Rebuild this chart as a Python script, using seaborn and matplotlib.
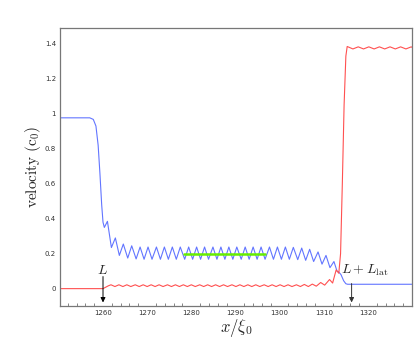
import pandas as pd
import seaborn as sns
import matplotlib.pyplot as plt

# blue curve (peaks and troughs)
blue_x = [1250.0, 1257.0, 1257.8, 1258.4, 1258.9, 1259.3, 1259.7, 1260.0, 1260.3,
          1261.0, 1261.9, 1262.8, 1263.7, 1264.6, 1265.6, 1266.5, 1267.5,
          1268.4, 1269.3, 1270.2, 1271.1, 1272.1, 1273.0, 1273.9, 1274.8, 1275.7,
          1276.6, 1277.5, 1278.5, 1279.4, 1280.3, 1281.2, 1282.1, 1283.0, 1283.9,
          1284.9, 1285.8, 1286.7, 1287.6, 1288.5, 1289.4, 1290.3, 1291.3, 1292.2,
          1293.1, 1294.0, 1294.9, 1295.8, 1296.7, 1297.7, 1298.6, 1299.5, 1300.4,
          1301.3, 1302.2, 1303.1, 1304.1, 1305.0, 1305.9, 1306.8, 1307.7, 1308.7,
          1309.6, 1310.5, 1311.4, 1312.3, 1313.0, 1313.4, 1313.9, 1314.5, 1315.0,
          1315.4, 1330.0]
blue_y = [0.977, 0.977, 0.968, 0.93, 0.82, 0.66, 0.48, 0.38, 0.35,
          0.385, 0.235, 0.29, 0.19, 0.255, 0.175, 0.245, 0.17,
          0.238, 0.168, 0.238, 0.168, 0.238, 0.168, 0.238, 0.168, 0.238,
          0.168, 0.238, 0.168, 0.238, 0.168, 0.238, 0.168, 0.238, 0.168,
          0.238, 0.168, 0.238, 0.168, 0.238, 0.168, 0.238, 0.168, 0.238,
          0.168, 0.238, 0.168, 0.238, 0.168, 0.238, 0.168, 0.238, 0.168,
          0.238, 0.168, 0.236, 0.166, 0.232, 0.162, 0.225, 0.155, 0.21,
          0.14, 0.19, 0.12, 0.155, 0.1, 0.095, 0.08, 0.045, 0.028,
          0.025, 0.025]

# red curve
red_x = [1250.0, 1260.0, 1260.6, 1261.2, 1261.8, 1262.7, 1263.6, 1264.5, 1265.4,
         1266.3, 1267.3, 1268.2, 1269.1, 1270.0, 1270.9, 1271.8, 1272.7, 1273.6,
         1274.6, 1275.5, 1276.4, 1277.3, 1278.2, 1279.1, 1280.0, 1280.9, 1281.9,
         1282.8, 1283.7, 1284.6, 1285.5, 1286.4, 1287.3, 1288.2, 1289.2, 1290.1,
         1291.0, 1291.9, 1292.8, 1293.7, 1294.6, 1295.5, 1296.5, 1297.4, 1298.3,
         1299.2, 1300.1, 1301.0, 1301.9, 1302.8, 1303.8, 1304.7, 1305.6, 1306.5,
         1307.4, 1308.3, 1309.3, 1310.2, 1311.3, 1312.0, 1312.8, 1313.4, 1313.8,
         1314.2, 1314.6, 1315.0, 1315.3, 1316.6, 1317.8, 1319.0, 1320.2, 1321.4,
         1322.6, 1323.8, 1325.0, 1326.2, 1327.4, 1328.6, 1329.8, 1330.0]
red_y = [0.0, 0.0, 0.008, 0.016, 0.022, 0.012, 0.022, 0.012, 0.022,
         0.012, 0.022, 0.012, 0.022, 0.012, 0.022, 0.012, 0.022, 0.012,
         0.022, 0.012, 0.022, 0.012, 0.022, 0.012, 0.022, 0.012, 0.022,
         0.012, 0.022, 0.012, 0.022, 0.012, 0.022, 0.012, 0.022, 0.012,
         0.022, 0.012, 0.022, 0.012, 0.022, 0.012, 0.022, 0.012, 0.022,
         0.012, 0.022, 0.012, 0.022, 0.012, 0.022, 0.012, 0.024, 0.012,
         0.026, 0.014, 0.035, 0.02, 0.052, 0.032, 0.107, 0.088, 0.2,
         0.6, 1.05, 1.33, 1.385, 1.371, 1.383, 1.371, 1.383, 1.371,
         1.383, 1.371, 1.383, 1.371, 1.383, 1.371, 1.383, 1.38]

# green reference segment
green_x = [1278.3, 1296.6]
green_y = [0.2, 0.2]

y_ticks = [0, 0.2, 0.4, 0.6, 0.8, 1, 1.2, 1.4]
y_tick_labels = ["0", "0.2", "0.4", "0.6", "0.8", "1", "1.2", "1.4"]
x_ticks = [1260, 1270, 1280, 1290, 1300, 1310, 1320]

sns.set_style("white")
plt.rcParams["mathtext.fontset"] = "cm"

fig = plt.figure(figsize=(4.15, 3.39), dpi=100)
ax = fig.add_axes([0.145, 0.097, 0.848, 0.82])

blue = pd.DataFrame({"x": blue_x, "v": blue_y})
red = pd.DataFrame({"x": red_x, "v": red_y})
green = pd.DataFrame({"x": green_x, "v": green_y})
line_kw = dict(linewidth=0.8, estimator=None, solid_joinstyle="round", ax=ax)
sns.lineplot(data=blue, x="x", y="v", color="#6275ff", **line_kw)
sns.lineplot(data=red, x="x", y="v", color="#ff5050", **line_kw)
sns.lineplot(data=green, x="x", y="v", color="#66ee00", linewidth=1.8,
             estimator=None, ax=ax)

ax.set_xlim(1250.3, 1330)
ax.set_ylim(-0.1, 1.49)
ax.set_yticks(y_ticks)
ax.set_yticklabels(y_tick_labels)
ax.set_xticks(x_ticks)
ax.set_xticks(range(1252, 1330, 2), minor=True)
ax.tick_params(axis="both", which="major", direction="in", length=3, width=0.6,
               labelsize=5, labelcolor="#333333", color="#555555", pad=3)
ax.tick_params(axis="x", which="minor", direction="in", length=2, width=0.5,
               color="#555555", bottom=True)
for s in ax.spines.values():
    s.set_color("#777777")
    s.set_linewidth(0.9)

ax.set_xlabel(r"$x/\xi_0$", fontsize=12)
ax.xaxis.set_label_coords(0.5, -0.038)
ax.set_ylabel(r"$\mathrm{velocity\ (c_0)}$", fontsize=11)
ax.yaxis.set_label_coords(-0.05, 0.5)

arrow = dict(arrowstyle="-|>", color="black", linewidth=0.7, mutation_scale=7)
ax.annotate("", xy=(1260, -0.095), xytext=(1260, 0.085), arrowprops=arrow)
ax.annotate("", xy=(1316.3, -0.095), xytext=(1316.3, 0.045),
            arrowprops=dict(arrow, color="#333333"))
ax.text(1259.8, 0.107, r"$L$", fontsize=10, ha="center", va="center")
ax.text(1319.3, 0.107, r"$L+L_{\rm lat}$", fontsize=10, ha="center", va="center")

fig.savefig("out.png", dpi=100)
